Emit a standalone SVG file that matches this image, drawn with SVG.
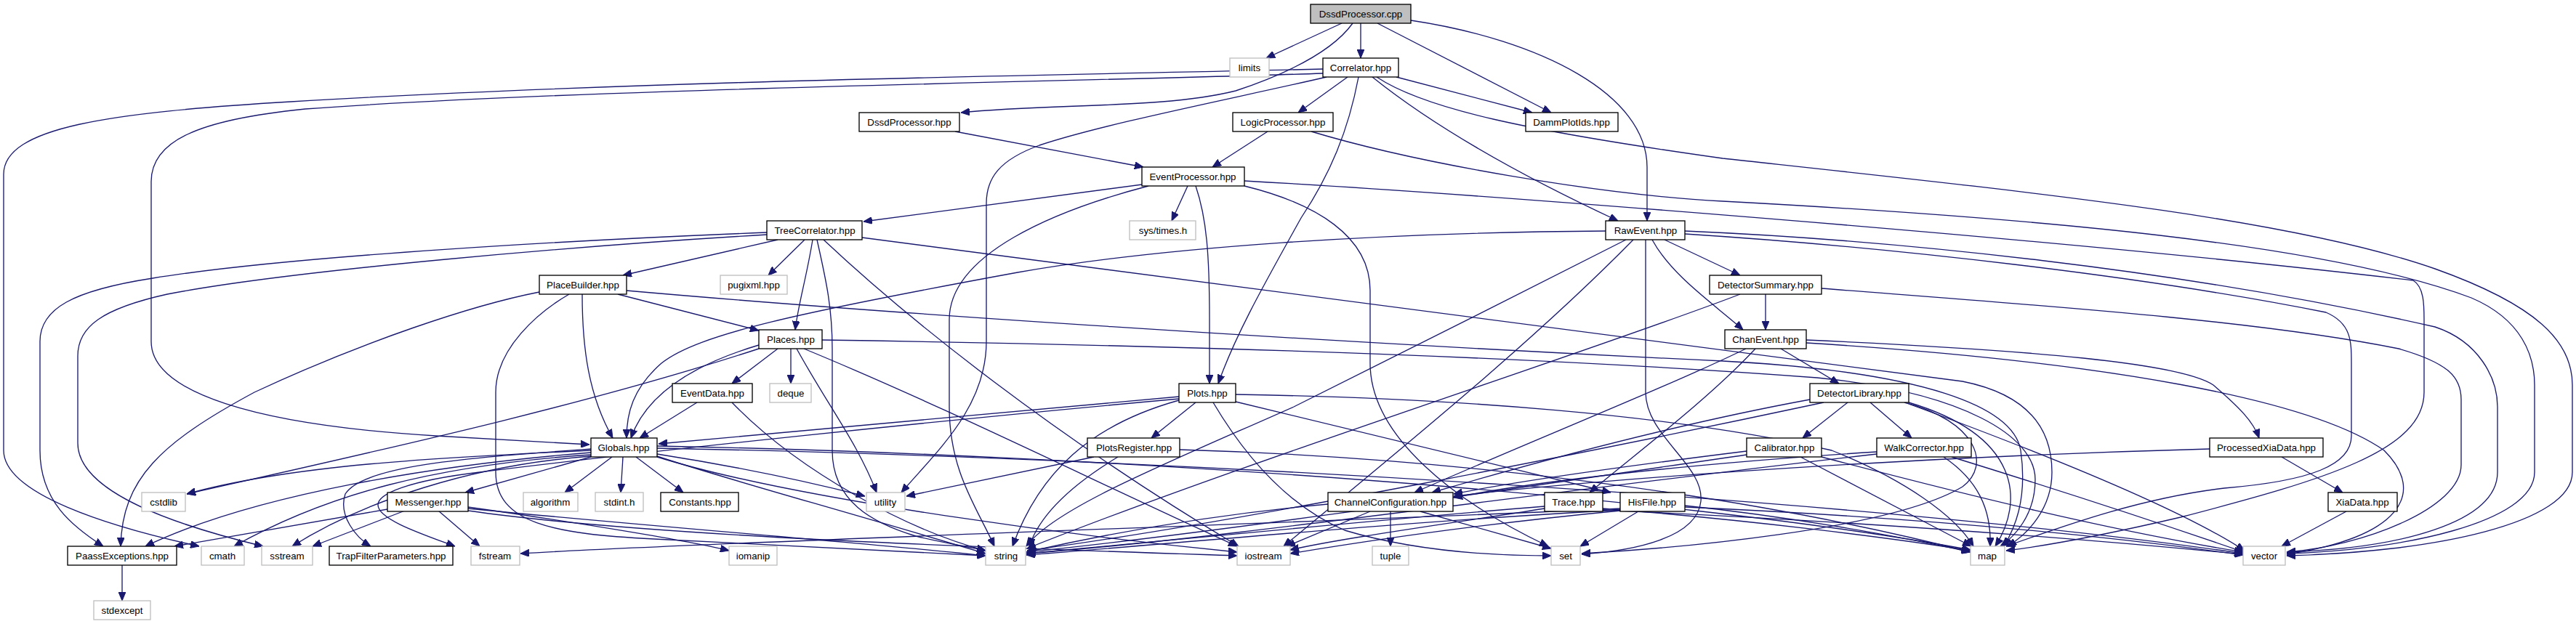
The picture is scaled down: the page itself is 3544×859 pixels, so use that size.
<svg xmlns="http://www.w3.org/2000/svg" width="3544" height="859" viewBox="0 0 3544 859">
<style>
.nd rect{fill:#ffffff;stroke:#000000;stroke-width:1.33}
.nd.ext rect{stroke:#bfbfbf}
.nd.root rect{fill:#bfbfbf}
.nd text{font-family:"Liberation Sans",Arial,sans-serif;font-size:13.3px;text-anchor:middle;fill:#000}
.ed path{fill:none;stroke:#191970;stroke-width:1.33;marker-end:url(#ah)}
</style>
<defs>
<marker id="ah" markerUnits="userSpaceOnUse" viewBox="0 0 12 10" markerWidth="12" markerHeight="10" refX="12" refY="5" orient="auto">
<path d="M0,0 L12,5 L0,10 z" fill="#191970" stroke="#191970" stroke-width="1"/>
</marker>
</defs>
<rect width="3544" height="859" fill="#ffffff"/>
<g id="connectors" class="ed">
<path d="M1846,32 L1742,80"/>
<path d="M1861,32 C1830,75 1760,105 1700,125 C1600,150 1450,142 1322,155"/>
<path d="M1872,32 L1872,80"/>
<path d="M1895,32 L2134,155"/>
<path d="M1941,28 C2120,55 2266,130 2266,230 L2266,304"/>
<path d="M1820,95 C1500,103 900,110 400,140 C150,155 5,175 5,240 L5,620 C5,680 150,725 274,752"/>
<path d="M1820,101 C1500,112 800,122 420,150 C270,165 208,195 208,250 L208,470 C208,540 350,585 600,600 L811,612"/>
<path d="M1825,106 C1700,135 1520,170 1430,200 C1375,220 1357,245 1357,280 L1357,470 C1357,560 1290,620 1240,678"/>
<path d="M1854,106 L1786,155"/>
<path d="M1869,106 C1855,180 1830,240 1790,300 C1740,390 1700,460 1676,528"/>
<path d="M1888,106 C1980,180 2110,250 2226,304"/>
<path d="M1894,106 C1960,150 2100,180 2370,218 C2800,265 3150,300 3350,370 C3490,420 3539,470 3539,530 L3539,650 C3539,720 3350,760 3146,765"/>
<path d="M1921,106 L2108,155"/>
<path d="M1744,181 L1668,230"/>
<path d="M1804,181 C1950,225 2200,268 2370,277 C2800,300 3200,335 3400,410 C3470,440 3487,490 3487,530 L3487,650 C3487,720 3300,758 3146,762"/>
<path d="M1314,181 L1573,230"/>
<path d="M1571,254 L1188,305"/>
<path d="M1634,256 L1612,304"/>
<path d="M1580,256 C1450,290 1306,350 1306,440 L1306,560 C1306,650 1345,700 1368,752"/>
<path d="M1645,256 C1660,300 1664,350 1664,440 L1664,528"/>
<path d="M1712,249 C2000,265 2800,325 3320,386 C3335,395 3335,420 3335,440 L3335,540 C3335,620 3200,660 3000,712 C2880,740 2810,752 2760,758"/>
<path d="M1712,256 C1810,280 1885,325 1885,400 L1885,500 C1885,600 2000,690 2130,752"/>
<path d="M1055,320 C800,330 400,352 210,383 C100,400 55,425 55,470 L55,620 C55,690 100,725 142,752"/>
<path d="M1055,323 C800,338 400,372 230,405 C140,425 107,450 107,490 L107,610 C107,680 250,725 362,752"/>
<path d="M1070,330 L857,379"/>
<path d="M1107,330 L1057,379"/>
<path d="M1118,330 C1110,380 1098,420 1094,454"/>
<path d="M1124,330 C1135,380 1145,420 1145,480 L1145,620 C1145,690 1200,720 1260,738 C1300,748 1330,752 1356,758"/>
<path d="M1133,330 C1250,440 1450,600 1704,752"/>
<path d="M1186,327 C1500,370 2100,450 2700,525 C2800,545 2823,600 2823,650 C2823,700 2790,735 2762,752"/>
<path d="M2209,318 C1900,320 1600,340 1400,375 C1100,430 960,460 910,500 C870,535 862,570 862,603"/>
<path d="M2264,330 L2264,540 C2264,600 2345,640 2340,690 C2335,740 2250,758 2176,763"/>
<path d="M2237,330 C2100,400 1900,500 1780,560 C1600,640 1450,700 1412,752"/>
<path d="M2247,330 C2100,480 1900,640 1766,752"/>
<path d="M2290,330 L2394,379"/>
<path d="M2273,330 C2300,380 2360,420 2398,454"/>
<path d="M2318,318 C2600,330 3000,370 3350,450 C3410,470 3436,520 3436,560 L3436,650 C3436,720 3300,755 3146,760"/>
<path d="M2318,322 C2600,340 2950,380 3200,430 C3235,445 3235,470 3235,500 L3235,600 C3235,640 3180,662 3060,672 C2950,685 2850,720 2760,752"/>
<path d="M2429,405 L2429,454"/>
<path d="M2394,405 C2200,480 1700,640 1413,755"/>
<path d="M2506,397 C2800,420 3100,440 3300,480 C3370,500 3386,520 3386,550 L3386,640 C3386,700 3250,752 3146,760"/>
<path d="M2450,480 L2530,528"/>
<path d="M2402,480 C2300,530 2100,610 1946,678"/>
<path d="M2415,480 C2350,550 2250,625 2187,678"/>
<path d="M2485,468 C2800,482 3000,500 3045,530 C3080,560 3100,580 3108,603"/>
<path d="M2485,472 C2900,498 3180,550 3280,620 C3340,680 3300,740 3146,763"/>
<path d="M2542,554 L2480,603"/>
<path d="M2573,554 L2630,603"/>
<path d="M2490,550 C2300,585 2100,640 1970,678"/>
<path d="M2509,554 C2200,620 1700,720 1413,758"/>
<path d="M2626,554 C2780,600 2785,690 2745,752"/>
<path d="M2620,554 C2720,580 2740,640 2700,670 C2600,730 2300,755 2176,762"/>
<path d="M2626,556 C2800,620 3000,700 3088,758"/>
<path d="M2403,621 C2250,640 2100,660 2000,680"/>
<path d="M2403,626 C2100,670 1700,730 1413,760"/>
<path d="M2477,629 L2712,752"/>
<path d="M2506,629 C2700,680 2900,730 3086,760"/>
<path d="M2582,622 C2300,640 2100,665 2000,685"/>
<path d="M2582,625 C2100,680 1700,740 1413,762"/>
<path d="M2674,629 C2720,660 2740,700 2738,752"/>
<path d="M2685,629 C2850,680 3000,730 3087,760"/>
<path d="M3139,629 L3223,678"/>
<path d="M3040,618 C2600,630 2200,660 2000,683"/>
<path d="M3228,704 L3139,752"/>
<path d="M1645,554 L1584,603"/>
<path d="M1622,546 L906,611"/>
<path d="M1622,549 C1300,578 900,620 660,650 C560,662 520,680 520,695 C520,715 580,735 626,752"/>
<path d="M1700,553 L2216,678"/>
<path d="M1700,543 C2000,548 2300,570 2520,620 C2620,660 2690,710 2715,752"/>
<path d="M1622,551 C1500,585 1430,650 1393,752"/>
<path d="M1669,554 C1720,640 1780,700 1850,730 C1950,760 2060,765 2134,765"/>
<path d="M1505,629 L1247,683"/>
<path d="M1538,629 C1470,670 1430,710 1416,752"/>
<path d="M1623,619 C2000,630 2400,680 2711,760"/>
<path d="M842,629 L777,678"/>
<path d="M857,629 L854,678"/>
<path d="M875,629 L940,678"/>
<path d="M813,629 L640,678"/>
<path d="M813,620 C600,630 400,640 257,680"/>
<path d="M813,623 C600,640 350,680 200,752"/>
<path d="M813,626 C600,640 450,680 322,752"/>
<path d="M813,628 C650,640 500,690 402,752"/>
<path d="M813,618 C650,630 500,640 475,680 C465,710 490,740 510,752"/>
<path d="M904,614 C1500,625 2300,680 2711,757"/>
<path d="M904,617 C1600,630 2600,690 3086,762"/>
<path d="M904,625 C1000,640 1100,660 1190,683"/>
<path d="M904,628 C1000,660 1150,700 1356,762"/>
<path d="M904,629 C1100,690 1500,740 1702,760"/>
<path d="M533,701 L240,752"/>
<path d="M557,703 L430,752"/>
<path d="M603,703 L660,752"/>
<path d="M644,698 C800,720 950,745 1003,758"/>
<path d="M644,700 C900,725 1200,748 1356,765"/>
<path d="M644,703 C900,740 1400,755 1702,765"/>
<path d="M1070,480 L1007,528"/>
<path d="M1088,480 L1088,528"/>
<path d="M1044,475 C960,500 890,540 868,603"/>
<path d="M1044,480 C800,560 500,625 257,680"/>
<path d="M1131,468 C1600,475 2100,490 2500,520 C2700,540 2800,600 2800,660 C2800,710 2770,740 2752,752"/>
<path d="M1096,480 C1140,560 1180,610 1206,678"/>
<path d="M1106,480 C1300,560 1500,660 1702,752"/>
<path d="M959,554 L880,603"/>
<path d="M1007,554 C1100,650 1250,730 1356,758"/>
<path d="M742,402 C650,420 500,470 350,540 C220,610 168,660 166,752"/>
<path d="M783,405 C740,430 682,480 682,540 L682,650 C682,720 760,735 900,742 C1100,752 1250,760 1356,765"/>
<path d="M801,405 C801,480 810,545 843,603"/>
<path d="M850,405 L1044,455"/>
<path d="M862,400 C1200,430 1800,470 2370,497 C2650,512 2770,560 2780,620 C2790,690 2770,730 2757,752"/>
<path d="M168,778 L168,827"/>
<path d="M1913,704 L1913,752"/>
<path d="M1885,704 L1770,752"/>
<path d="M1827,694 C1650,710 1500,740 1412,760"/>
<path d="M1954,704 L2134,755"/>
<path d="M2125,697 C1900,715 1600,745 1412,762"/>
<path d="M2125,700 C2000,720 1850,740 1775,757"/>
<path d="M2205,700 C2400,715 2600,740 2711,758"/>
<path d="M2205,702 C2600,720 2900,745 3086,763"/>
<path d="M2254,704 L2174,752"/>
<path d="M2229,700 C1800,720 1000,745 716,762"/>
<path d="M2229,702 C1900,720 1600,750 1412,764"/>
<path d="M2229,703 C2000,725 1850,750 1775,762"/>
<path d="M2318,696 C2450,710 2600,735 2711,760"/>
<path d="M2318,698 C2700,715 2950,745 3086,764"/>
</g>
<g id="node-DssdProcessor-cpp" class="nd root"><rect x="1803" y="6" width="138" height="26"/><text x="1872" y="24">DssdProcessor.cpp</text></g>
<g id="node-limits" class="nd ext"><rect x="1692" y="80" width="54" height="26"/><text x="1719" y="98">limits</text></g>
<g id="node-Correlator" class="nd"><rect x="1820" y="80" width="104" height="26"/><text x="1872" y="98">Correlator.hpp</text></g>
<g id="node-DssdProcessor-hpp" class="nd"><rect x="1182" y="155" width="138" height="26"/><text x="1251" y="173">DssdProcessor.hpp</text></g>
<g id="node-LogicProcessor" class="nd"><rect x="1696" y="155" width="138" height="26"/><text x="1765" y="173">LogicProcessor.hpp</text></g>
<g id="node-DammPlotIds" class="nd"><rect x="2099" y="155" width="127" height="26"/><text x="2162" y="173">DammPlotIds.hpp</text></g>
<g id="node-EventProcessor" class="nd"><rect x="1571" y="230" width="141" height="26"/><text x="1641" y="248">EventProcessor.hpp</text></g>
<g id="node-TreeCorrelator" class="nd"><rect x="1055" y="304" width="131" height="26"/><text x="1121" y="322">TreeCorrelator.hpp</text></g>
<g id="node-systimes" class="nd ext"><rect x="1554" y="304" width="91" height="26"/><text x="1600" y="322">sys/times.h</text></g>
<g id="node-RawEvent" class="nd"><rect x="2209" y="304" width="109" height="26"/><text x="2264" y="322">RawEvent.hpp</text></g>
<g id="node-PlaceBuilder" class="nd"><rect x="742" y="379" width="120" height="26"/><text x="802" y="397">PlaceBuilder.hpp</text></g>
<g id="node-pugixml" class="nd ext"><rect x="991" y="379" width="92" height="26"/><text x="1037" y="397">pugixml.hpp</text></g>
<g id="node-DetectorSummary" class="nd"><rect x="2352" y="379" width="154" height="26"/><text x="2429" y="397">DetectorSummary.hpp</text></g>
<g id="node-Places" class="nd"><rect x="1044" y="454" width="87" height="26"/><text x="1088" y="472">Places.hpp</text></g>
<g id="node-ChanEvent" class="nd"><rect x="2373" y="454" width="112" height="26"/><text x="2429" y="472">ChanEvent.hpp</text></g>
<g id="node-EventData" class="nd"><rect x="925" y="528" width="110" height="26"/><text x="980" y="546">EventData.hpp</text></g>
<g id="node-deque" class="nd ext"><rect x="1059" y="528" width="57" height="26"/><text x="1088" y="546">deque</text></g>
<g id="node-Plots" class="nd"><rect x="1622" y="528" width="78" height="26"/><text x="1661" y="546">Plots.hpp</text></g>
<g id="node-DetectorLibrary" class="nd"><rect x="2490" y="528" width="136" height="26"/><text x="2558" y="546">DetectorLibrary.hpp</text></g>
<g id="node-Globals" class="nd"><rect x="813" y="603" width="91" height="26"/><text x="858" y="621">Globals.hpp</text></g>
<g id="node-PlotsRegister" class="nd"><rect x="1496" y="603" width="127" height="26"/><text x="1560" y="621">PlotsRegister.hpp</text></g>
<g id="node-Calibrator" class="nd"><rect x="2403" y="603" width="103" height="26"/><text x="2455" y="621">Calibrator.hpp</text></g>
<g id="node-WalkCorrector" class="nd"><rect x="2582" y="603" width="130" height="26"/><text x="2647" y="621">WalkCorrector.hpp</text></g>
<g id="node-ProcessedXiaData" class="nd"><rect x="3040" y="603" width="156" height="26"/><text x="3118" y="621">ProcessedXiaData.hpp</text></g>
<g id="node-cstdlib" class="nd ext"><rect x="195" y="678" width="60" height="26"/><text x="225" y="696">cstdlib</text></g>
<g id="node-Messenger" class="nd"><rect x="533" y="678" width="111" height="26"/><text x="589" y="696">Messenger.hpp</text></g>
<g id="node-algorithm" class="nd ext"><rect x="720" y="678" width="75" height="26"/><text x="757" y="696">algorithm</text></g>
<g id="node-stdint" class="nd ext"><rect x="819" y="678" width="66" height="26"/><text x="852" y="696">stdint.h</text></g>
<g id="node-Constants" class="nd"><rect x="909" y="678" width="107" height="26"/><text x="963" y="696">Constants.hpp</text></g>
<g id="node-utility" class="nd ext"><rect x="1192" y="678" width="53" height="26"/><text x="1218" y="696">utility</text></g>
<g id="node-ChannelConfiguration" class="nd"><rect x="1827" y="678" width="172" height="26"/><text x="1913" y="696">ChannelConfiguration.hpp</text></g>
<g id="node-Trace" class="nd"><rect x="2125" y="678" width="80" height="26"/><text x="2165" y="696">Trace.hpp</text></g>
<g id="node-HisFile" class="nd"><rect x="2229" y="678" width="89" height="26"/><text x="2273" y="696">HisFile.hpp</text></g>
<g id="node-XiaData" class="nd"><rect x="3203" y="678" width="95" height="26"/><text x="3250" y="696">XiaData.hpp</text></g>
<g id="node-PaassExceptions" class="nd"><rect x="93" y="752" width="150" height="26"/><text x="168" y="770">PaassExceptions.hpp</text></g>
<g id="node-cmath" class="nd ext"><rect x="277" y="752" width="59" height="26"/><text x="306" y="770">cmath</text></g>
<g id="node-sstream" class="nd ext"><rect x="360" y="752" width="70" height="26"/><text x="395" y="770">sstream</text></g>
<g id="node-TrapFilterParameters" class="nd"><rect x="453" y="752" width="170" height="26"/><text x="538" y="770">TrapFilterParameters.hpp</text></g>
<g id="node-fstream" class="nd ext"><rect x="648" y="752" width="67" height="26"/><text x="681" y="770">fstream</text></g>
<g id="node-iomanip" class="nd ext"><rect x="1003" y="752" width="66" height="26"/><text x="1036" y="770">iomanip</text></g>
<g id="node-string" class="nd ext"><rect x="1356" y="752" width="55" height="26"/><text x="1384" y="770">string</text></g>
<g id="node-iostream" class="nd ext"><rect x="1702" y="752" width="73" height="26"/><text x="1738" y="770">iostream</text></g>
<g id="node-tuple" class="nd ext"><rect x="1888" y="752" width="50" height="26"/><text x="1913" y="770">tuple</text></g>
<g id="node-set" class="nd ext"><rect x="2134" y="752" width="40" height="26"/><text x="2154" y="770">set</text></g>
<g id="node-map" class="nd ext"><rect x="2711" y="752" width="47" height="26"/><text x="2734" y="770">map</text></g>
<g id="node-vector" class="nd ext"><rect x="3086" y="752" width="58" height="26"/><text x="3115" y="770">vector</text></g>
<g id="node-stdexcept" class="nd ext"><rect x="129" y="827" width="78" height="26"/><text x="168" y="845">stdexcept</text></g>
</svg>
